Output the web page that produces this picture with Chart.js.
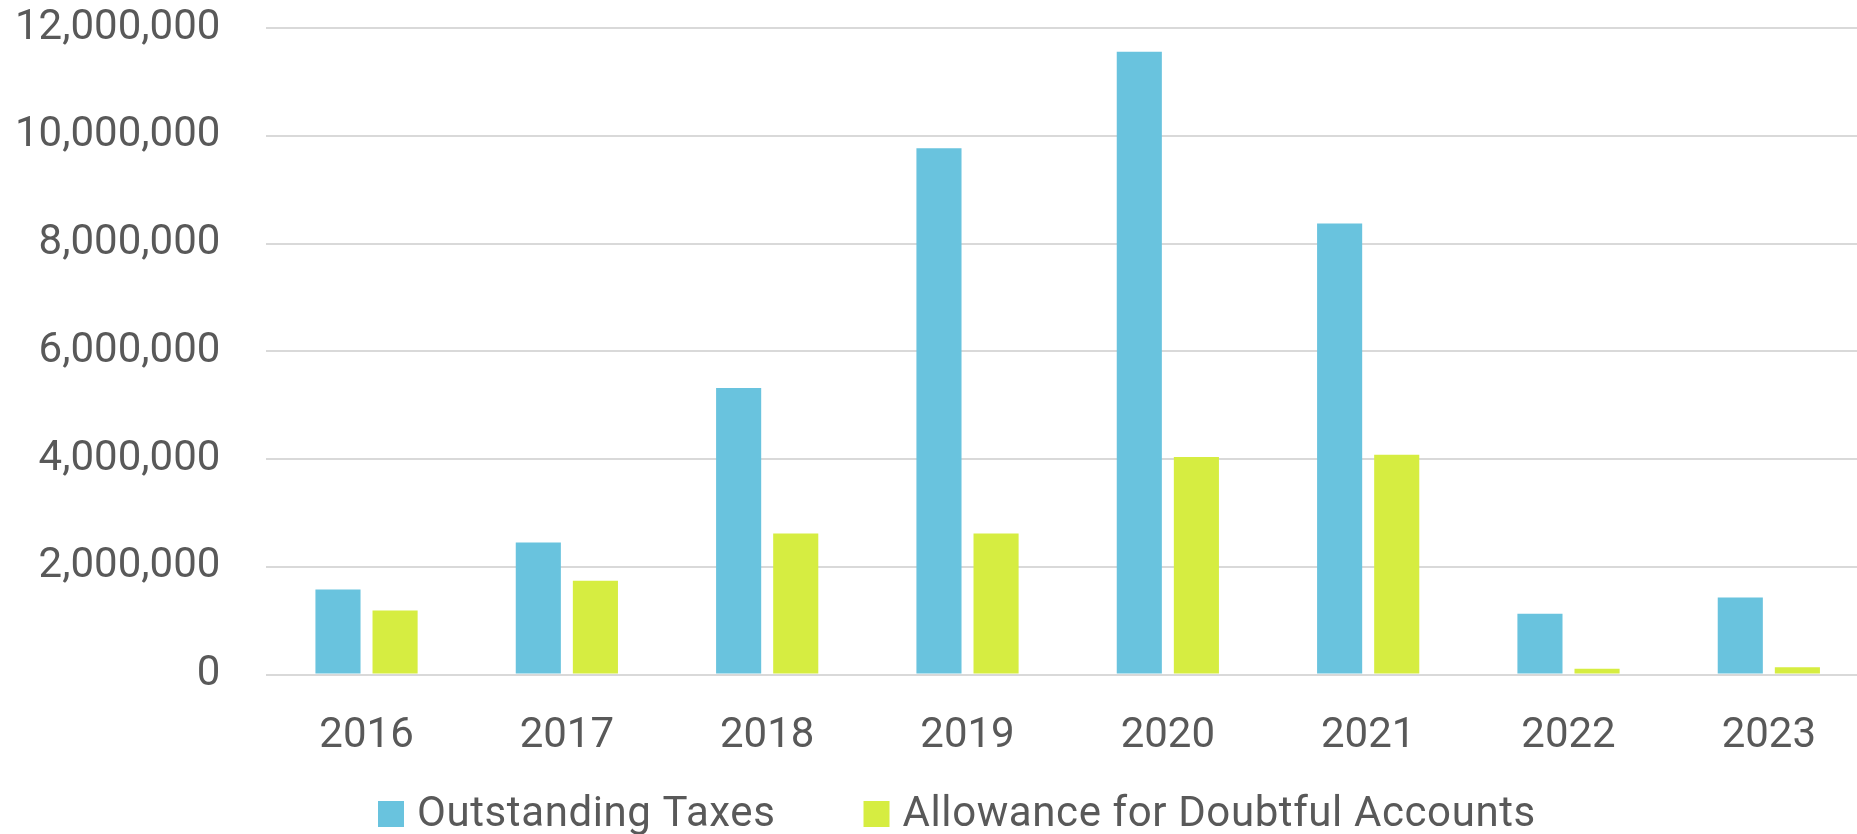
<!DOCTYPE html>
<html>
<head>
<meta charset="utf-8">
<script src="https://cdn.jsdelivr.net/npm/chart.js@4.4.1/dist/chart.umd.min.js"></script>
<style>
  html, body { margin: 0; padding: 0; background: #ffffff; overflow: hidden; }
  /* the plot runs about 12px past the right edge of the original image */
  #wrap { width: 1869px; height: 834px; position: relative; }
</style>
</head>
<body>
<div id="wrap"><canvas id="taxChart"></canvas></div>
<script>
const years = ['2016', '2017', '2018', '2019', '2020', '2021', '2022', '2023'];
const outstandingTaxes = [1580000, 2450000, 5320000, 9770000, 11560000, 8370000, 1130000, 1430000];
const doubtfulAllowance = [1190000, 1740000, 2620000, 2620000, 4040000, 4080000, 110000, 135000];
const yTicks = [0, 2000000, 4000000, 6000000, 8000000, 10000000, 12000000];

const textColor = '#595959';
const gridColor = '#d9d9d9';
const fontFamily = 'Roboto, "Open Sans", sans-serif';

// bottom legend drawn by hand so the box/text spacing matches the original
const legendPlugin = {
    id: 'bottomLegend',
    afterDraw(chart) {
        const ctx = chart.ctx;
        const boxSize = 26;
        const textGap = 13;
        const itemGap = 88;
        const centerY = 814;
        let x = 378;
        ctx.save();
        ctx.font = '42px ' + fontFamily;
        ctx.letterSpacing = '0.6px';
        ctx.textBaseline = 'middle';
        ctx.textAlign = 'left';
        chart.data.datasets.forEach(ds => {
            ctx.fillStyle = ds.backgroundColor;
            ctx.fillRect(x, centerY - boxSize / 2, boxSize, boxSize);
            x += boxSize + textGap;
            ctx.fillStyle = textColor;
            ctx.fillText(ds.label, x, centerY + 1);
            x += ctx.measureText(ds.label).width + itemGap;
        });
        ctx.restore();
    }
};

const ctx = document.getElementById('taxChart').getContext('2d');
new Chart(ctx, {
    type: 'bar',
    data: {
        labels: years,
        datasets: [
            {
                label: 'Outstanding Taxes',
                data: outstandingTaxes,
                backgroundColor: '#69c3de',
                categoryPercentage: 0.57,
                barPercentage: 0.79
            },
            {
                label: 'Allowance for Doubtful Accounts',
                data: doubtfulAllowance,
                backgroundColor: '#d6ed41',
                categoryPercentage: 0.57,
                barPercentage: 0.79
            }
        ]
    },
    options: {
        responsive: true,
        maintainAspectRatio: false,
        animation: false,
        layout: {
            padding: { left: -31, right: 0, top: 0, bottom: 43 }
        },
        plugins: {
            legend: { display: false },
            tooltip: { enabled: false }
        },
        scales: {
            x: {
                grid: { display: false },
                border: { display: false },
                ticks: {
                    color: textColor,
                    font: { family: fontFamily, size: 42 },
                    padding: 29,
                    maxRotation: 0
                }
            },
            y: {
                min: 0,
                max: yTicks[yTicks.length - 1],
                afterBuildTicks: axis => {
                    axis.ticks = yTicks.map(v => ({ value: v }));
                },
                afterFit: axis => {
                    axis.paddingTop = 28;
                },
                grid: { color: gridColor, lineWidth: 2, drawTicks: false },
                border: { display: false },
                ticks: {
                    color: textColor,
                    font: { family: fontFamily, size: 42 },
                    padding: 46,
                    callback: value => value.toLocaleString('en-US')
                }
            }
        }
    },
    plugins: [legendPlugin]
});
</script>
</body>
</html>
